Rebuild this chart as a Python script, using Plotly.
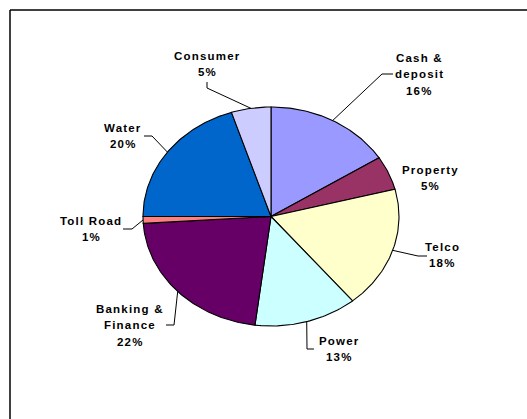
import numpy as np
import plotly.graph_objects as go

# ---- data ----
categories = ["Cash &<br>deposit", "Property", "Telco", "Power",
              "Banking &<br>Finance", "Toll Road", "Water", "Consumer"]
values = [16, 5, 18, 13, 22, 1, 20, 5]
colors = ["#9999FF", "#993366", "#FFFFCC", "#CCFFFF",
          "#660066", "#FF8080", "#0066CC", "#CCCCFF"]

# ---- layout constants (pixels) ----
W, H = 527, 419
CX, CY = 271.0, 216.5      # pie centre
RX, RY = 128.0, 109.5      # pie radii (chart stretched horizontally)
LINE_H = 16.3

label_pos = [(419, 58), (430, 170), (442, 247), (339, 341),
             (130, 309), (91, 221), (123, 128), (207, 56)]
leader_pts = [
    [(382, 74), (393, 74)],
    None,
    [(418, 256), (427, 256)],
    [(307, 349), (314, 349)],
    [(174, 325), (166, 325)],
    [(132, 229), (123, 229)],
    [(152, 136), (144, 136)],
    [(207, 88), (207, 82)],
]


def px2x(px):
    return (px - CX) / RX


def px2y(py):
    return (CY - py) / RY


fig = go.Figure()

total = float(sum(values))
cum = np.concatenate([[0.0], np.cumsum(values) / total])

for i, (cat, v, col) in enumerate(zip(categories, values, colors)):
    f0, f1 = cum[i], cum[i + 1]
    n = max(4, int((f1 - f0) * 400))
    t = np.linspace(f0, f1, n) * 2 * np.pi
    xs = np.concatenate([[0.0], np.sin(t), [0.0]])
    ys = np.concatenate([[0.0], np.cos(t), [0.0]])
    fig.add_trace(go.Scatter(
        x=xs, y=ys, mode="lines", fill="toself", fillcolor=col,
        line=dict(color="black", width=1.1), hoverinfo="skip",
        showlegend=False))

for i, pts in enumerate(leader_pts):
    if pts is None:
        continue
    fm = (cum[i] + cum[i + 1]) / 2 * 2 * np.pi
    lx = [np.sin(fm)] + [px2x(p[0]) for p in pts]
    ly = [np.cos(fm)] + [px2y(p[1]) for p in pts]
    fig.add_trace(go.Scatter(
        x=lx, y=ly, mode="lines", line=dict(color="black", width=1),
        hoverinfo="skip", showlegend=False))

annotations = []
for i, (cat, v) in enumerate(zip(categories, values)):
    pct = f"{round(v / total * 100)}%"
    lines = cat.split("<br>") + [pct]
    x0, y0 = label_pos[i]
    for j, ln in enumerate(lines):
        annotations.append(dict(
            x=x0 / W, y=1 - (y0 + j * LINE_H) / H, xref="paper", yref="paper",
            text='<span style="letter-spacing:1.2px">' + ln + '</span>',
            showarrow=False, xanchor="center", yanchor="middle",
            font=dict(family="Liberation Sans, Arial, sans-serif", size=11.5,
                      color="black", weight="bold")))

fig.update_layout(
    width=W, height=H,
    margin=dict(l=0, r=0, t=0, b=0),
    paper_bgcolor="white", plot_bgcolor="white",
    xaxis=dict(range=[(0 - CX) / RX, (W - CX) / RX], visible=False,
               fixedrange=True, showline=False, zeroline=False,
               showgrid=False),
    yaxis=dict(range=[(CY - H) / RY, CY / RY], visible=False,
               fixedrange=True, showline=False, zeroline=False,
               showgrid=False),
    annotations=annotations,
    shapes=[
        dict(type="line", xref="paper", yref="paper",
             x0=10 / W, x1=1.0, y0=1 - 10 / H, y1=1 - 10 / H,
             line=dict(color="black", width=1.5)),
        dict(type="line", xref="paper", yref="paper",
             x0=10 / W, x1=10 / W, y0=0.0, y1=1 - 10 / H,
             line=dict(color="black", width=1.5)),
    ],
    showlegend=False,
)

fig.write_html("out.html", config={"displayModeBar": False})
